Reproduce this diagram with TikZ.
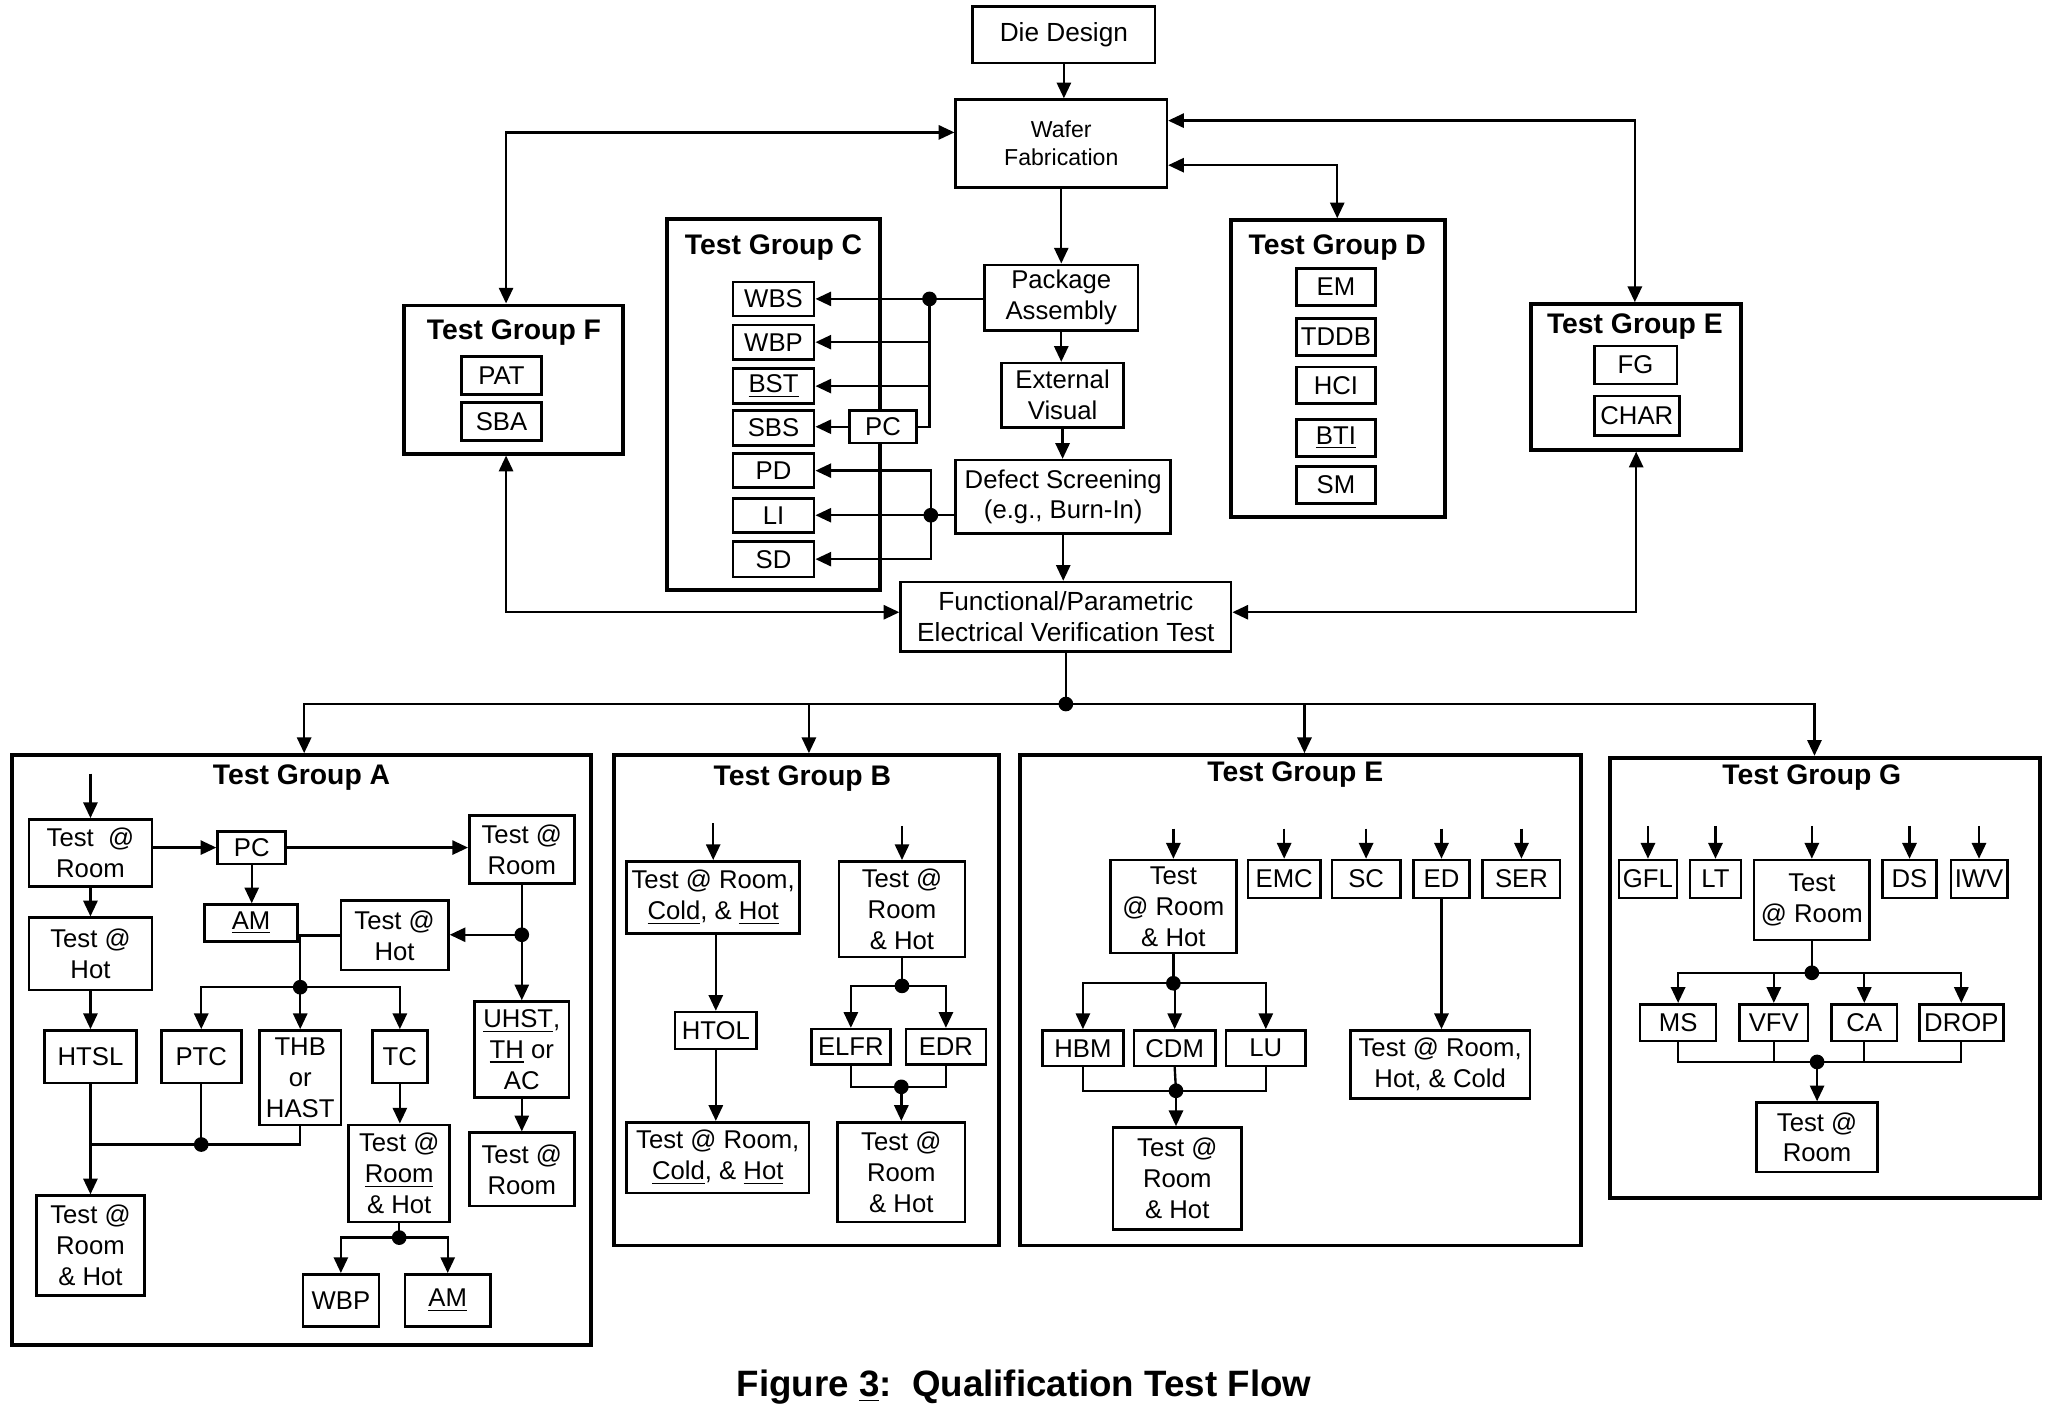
\documentclass[tikz,border=0pt]{standalone}
\usepackage{fontspec}
\setmainfont{Liberation Sans}
\usetikzlibrary{arrows.meta}
\newcommand{\fsb}{\fontsize{9.8}{11.8}\selectfont}
\newcommand{\fst}{\fontsize{10.8}{13}\selectfont\bfseries}
\newcommand{\fsw}{\fontsize{8.8}{10.6}\selectfont}
\newcommand{\fsc}{\fontsize{14}{16}\selectfont\bfseries}
% box from corners (x1,y1)-(x2,y2) in reference pixels
\newcommand{\bx}[7][]{\node[bbox,minimum width={(#4-#2)*0.5pt},minimum height={(#5-#3)*0.5pt},#1] (#6) at ({(#2+#4)/2},{(#3+#5)/2}) {#7};}
\newcommand{\gbx}[5]{\node[grp,minimum width={(#3-#1)*0.5pt},minimum height={(#4-#2)*0.5pt}] (#5) at ({(#1+#3)/2},{(#2+#4)/2}) {};}
\begin{document}
\begin{tikzpicture}[x=0.5pt,y=-0.5pt,
  bbox/.style={draw,line width=1pt,inner sep=0pt,align=center,fill=white,font=\fsb},
  grp/.style={draw,line width=1.5pt,inner sep=0pt},
  ttl/.style={font=\fst,inner sep=0pt},
  conn/.style={line width=0.9pt},
  arr/.style={conn,-{Triangle[length=6pt,width=5.4pt]}},
  darr/.style={conn,{Triangle[length=6pt,width=5.4pt]}-{Triangle[length=6pt,width=5.4pt]}}
]
\useasboundingbox (0,0) rectangle (1569,1081);

% ---------- group frames ----------
\gbx{509}{167}{671}{450}{grpC}
\gbx{939}{168}{1102}{394}{grpD}
\gbx{1168}{232}{1328}{343}{grpEt}
\gbx{308}{233}{475}{346}{grpF}
\gbx{9}{576}{451}{1026}{grpA}
\gbx{468}{576}{762}{950}{grpB}
\gbx{778}{576}{1206}{950}{grpE}
\gbx{1228}{578}{1556}{914}{grpG}

\node[ttl] (tC) at (590,189) {Test Group C};
\node[ttl] (tD) at (1020,189) {Test Group D};
\node[ttl] (tEt) at (1247,249) {Test Group E};
\node[ttl] (tF) at (392,254) {Test Group F};
\node[ttl] (tA) at (230,593) {Test Group A};
\node[ttl] (tB) at (612,594) {Test Group B};
\node[ttl] (tE) at (988,591) {Test Group E};
\node[ttl] (tG) at (1382,593) {Test Group G};

% ---------- main flow ----------
\bx[font={\fontsize{10}{12}\selectfont}]{742}{5}{881}{48}{die}{Die Design}
\bx[font=\fsw]{729}{76}{890}{143}{waf}{Wafer\\Fabrication}
\bx{751}{202}{868}{252}{pa}{Package\\Assembly}
\bx{764}{277}{857}{326}{ev}{External\\Visual}
\bx{729}{351}{893}{407}{ds}{Defect Screening\\(e.g., Burn-In)}
\bx[font={\fontsize{10}{12}\selectfont}]{687}{444}{939}{497}{fp}{Functional/Parametric\\Electrical Verification Test}

% ---------- group C items ----------
\bx{559}{215}{621}{241}{wbs}{WBS}
\bx{559}{248}{621}{274}{wbp}{WBP}
\bx{559}{281}{621}{308}{bst}{\underline{BST}}
\bx{559}{313}{621}{340}{sbs}{SBS}
\bx{559}{346}{621}{372}{pd}{PD}
\bx{559}{380}{621}{406}{li}{LI}
\bx{559}{413}{621}{440}{sd}{SD}
\bx{648}{313}{699}{338}{pc}{PC}

% ---------- group D items ----------
\bx{989}{205}{1049}{233}{em}{EM}
\bx{989}{243}{1049}{271}{tddb}{TDDB}
\bx{989}{280}{1049}{308}{hci}{HCI}
\bx{989}{320}{1049}{348}{bti}{\underline{BTI}}
\bx{989}{356}{1049}{384}{sm}{SM}

% ---------- group E (top) / F items ----------
\bx{1216}{264}{1279}{293}{fg}{FG}
\bx{1216}{302}{1281}{332}{char}{CHAR}
\bx{352}{272}{413}{301}{pat}{PAT}
\bx{352}{307}{413}{336}{sba}{SBA}

% ---------- group A ----------
\bx{22}{625}{116}{676}{trA1}{Test \ @\\Room}
\bx{166}{634}{218}{659}{pcA}{PC}
\bx{156}{690}{227}{718}{amA}{\underline{AM}}
\bx{358}{622}{438}{674}{trA2}{Test @\\Room}
\bx{22}{700}{116}{755}{thA1}{Test @\\Hot}
\bx{260}{687}{342}{740}{thA2}{Test @\\Hot}
\bx{34}{786}{104}{826}{htsl}{HTSL}
\bx{123}{786}{184}{826}{ptc}{PTC}
\bx{198}{786}{260}{858}{thb}{THB\\or\\HAST}
\bx{284}{786}{326}{826}{tc}{TC}
\bx{362}{764}{434}{837}{uhst}{\underline{UHST},\\\underline{TH} or\\AC}
\bx{266}{858}{343}{932}{trhA2}{Test @\\\underline{Room}\\\& Hot}
\bx{358}{864}{438}{920}{trA3}{Test @\\Room}
\bx{28}{912}{110}{988}{trhA1}{Test @\\Room\\\& Hot}
\bx{231}{972}{289}{1012}{wbpA}{WBP}
\bx{309}{972}{374}{1012}{amA2}{\underline{AM}}

% ---------- group B ----------
\bx{478}{657}{610}{712}{trchB1}{Test @ Room,\\\underline{Cold}, \& \underline{Hot}}
\bx{640}{657}{736}{730}{trhB1}{Test @\\Room\\\& Hot}
\bx{515}{772}{577}{800}{htol}{HTOL}
\bx{478}{856}{617}{910}{trchB2}{Test @ Room,\\\underline{Cold}, \& \underline{Hot}}
\bx{619}{785}{679}{812}{elfr}{ELFR}
\bx{691}{785}{752}{812}{edr}{EDR}
\bx{639}{856}{736}{932}{trhB2}{Test @\\Room\\\& Hot}

% ---------- group E ----------
\bx{847}{656}{943}{727}{trhE1}{Test\\@ Room\\\& Hot}
\bx{952}{656}{1007}{685}{emc}{EMC}
\bx{1016}{656}{1068}{685}{sc}{SC}
\bx{1078}{656}{1121}{685}{ed}{ED}
\bx{1131}{656}{1190}{685}{ser}{SER}
\bx{795}{786}{857}{813}{hbm}{HBM}
\bx{865}{786}{927}{813}{cdm}{CDM}
\bx{935}{786}{996}{813}{lu}{LU}
\bx{849}{860}{947}{938}{trhE2}{Test @\\Room\\\& Hot}
\bx{1030}{786}{1167}{838}{trhcE}{Test @ Room,\\Hot, \& Cold}

% ---------- group G ----------
\bx{1235}{656}{1279}{685}{gfl}{GFL}
\bx{1289}{656}{1328}{685}{lt}{LT}
\bx{1338}{656}{1426}{717}{trG1}{Test\\@ Room}
\bx{1436}{656}{1477}{685}{dsG}{DS}
\bx{1488}{656}{1531}{685}{iwv}{IWV}
\bx{1251}{766}{1309}{794}{ms}{MS}
\bx{1327}{766}{1379}{794}{vfv}{VFV}
\bx{1397}{766}{1447}{794}{ca}{CA}
\bx{1464}{766}{1528}{794}{drop}{DROP}
\bx{1340}{841}{1432}{894}{trG2}{Test @\\Room}

% ---------- caption ----------
\node[font=\fsc,inner sep=0pt] (cap) at (781,1058) {Figure \underline{3}:\ \ Qualification Test Flow};

% ================= connectors =================
% top
\draw[arr] (die.south) -- (die.south |- waf.north);
\draw[darr] (grpF.north -| 386,0) |- (waf.west |- 0,101);
\draw[darr] (grpEt.north -| 1247,0) |- (waf.east |- 0,92);
\draw[darr] (grpD.north -| 1020,0) |- (waf.east |- 0,126);
\draw[arr] (waf.south) -- (pa.north);
\draw[arr] (pa.south) -- (pa.south |- ev.north);
\draw[arr] (ev.south) -- (ev.south |- ds.north);
\draw[arr] (ds.south) -- (ds.south |- fp.north);
\draw[darr] (grpF.south -| 386,0) |- (fp.west |- 0,467);
\draw[darr] (grpEt.south -| 1248,0) |- (fp.east |- 0,467);

% group C fan-out
\coordinate (jc1) at (709,228);
\draw[conn] (pa.west |- jc1) -- (jc1);
\draw[arr] (jc1) -- (wbs.east);
\draw[arr] (jc1 |- wbp.east) -- (wbp.east);
\draw[arr] (jc1 |- bst.east) -- (bst.east);
\draw[conn] (jc1) |- (pc.east);
\draw[arr] (pc.west) -- (pc.west -| sbs.east);
\fill (jc1) circle (2.8pt);
\coordinate (jc2) at (710,393);
\draw[conn] (ds.west |- jc2) -- (jc2);
\draw[arr] (jc2) -- (li.east);
\draw[arr] (jc2) |- (pd.east);
\draw[arr] (jc2) |- (sd.east);
\fill (jc2) circle (2.8pt);

% distribution to bottom groups
\coordinate (jd) at (813,537);
\draw[conn] (fp.south) -- (jd);
\draw[arr] (jd) -| (grpA.north -| 232,0);
\draw[arr] (jd) -| (grpB.north -| 617,0);
\draw[arr] (jd) -| (grpE.north -| 995,0);
\draw[arr] (jd) -| (grpG.north -| 1384,0);
\fill (jd) circle (2.8pt);

% group A
\draw[arr] (69,590) -- (trA1.north);
\draw[arr] (pcA.west -| trA1.east) -- (pcA.west);
\draw[arr] (pcA.east) -- (pcA.east -| trA2.west);
\draw[arr] (pcA.south) -- (pcA.south |- amA.north);
\draw[arr] (trA1.south) -- (thA1.north);
\draw[arr] (thA1.south) -- (htsl.north);
\coordinate (jA1) at (398,713);
\draw[conn] (trA2.south) -- (jA1);
\draw[arr] (jA1) -- (uhst.north);
\draw[arr] (jA1) -- (jA1 -| thA2.east);
\fill (jA1) circle (2.8pt);
\coordinate (jA2) at (229,753);
\draw[conn] (thA2.west) -| (jA2);
\draw[arr] (jA2) -| (ptc.north);
\draw[arr] (jA2) -- (thb.north);
\draw[arr] (jA2) -| (tc.north);
\fill (jA2) circle (2.8pt);
\coordinate (jA3) at (153.5,873);
\draw[arr] (htsl.south) -- (trhA1.north);
\draw[conn] (ptc.south) -- (jA3);
\draw[conn] (thb.south) |- (htsl.south |- jA3);
\fill (jA3) circle (2.8pt);
\draw[arr] (tc.south) -- (tc.south |- trhA2.north);
\coordinate (jA4) at (304.5,944);
\draw[conn] (trhA2.south) -- (jA4);
\draw[arr] (jA4) -| (wbpA.north);
\draw[arr] (jA4) -| (amA2.north);
\fill (jA4) circle (2.8pt);
\draw[arr] (uhst.south) -- (trA3.north);

% group B
\draw[arr] (544,628) -- (trchB1.north);
\draw[arr] (688,630) -- (trhB1.north);
\draw[arr] (trchB1.south -| htol.north) -- (htol.north);
\draw[arr] (htol.south) -- (htol.south |- trchB2.north);
\coordinate (jB1) at (688,752);
\draw[conn] (trhB1.south) -- (jB1);
\draw[arr] (jB1) -| (elfr.north);
\draw[arr] (jB1) -| (edr.north);
\fill (jB1) circle (2.8pt);
\coordinate (jB2) at (687.5,829);
\draw[conn] (elfr.south) |- (jB2);
\draw[conn] (edr.south) |- (jB2);
\draw[arr] (jB2) -- (trhB2.north);
\fill (jB2) circle (2.8pt);

% group E
\draw[arr] (895,632) -- (trhE1.north);
\draw[arr] (979.5,632) -- (emc.north);
\draw[arr] (1042,632) -- (sc.north);
\draw[arr] (1099.5,632) -- (ed.north);
\draw[arr] (1160.5,632) -- (ser.north);
\coordinate (jE1) at (895,750);
\draw[conn] (trhE1.south) -- (jE1);
\draw[arr] (jE1) -| (hbm.north);
\draw[arr] (jE1) -| (cdm.north);
\draw[arr] (jE1) -| (lu.north);
\fill (jE1) circle (2.8pt);
\coordinate (jE2) at (897,832);
\draw[conn] (hbm.south) |- (jE2);
\draw[conn] (lu.south) |- (jE2);
\draw[conn] (cdm.south) -- (jE2);
\draw[arr] (jE2) -- (jE2 |- trhE2.north);
\fill (jE2) circle (2.8pt);
\draw[arr] (ed.south) -- (ed.south |- trhcE.north);

% group G
\draw[arr] (1257,630) -- (gfl.north);
\draw[arr] (1308.5,630) -- (lt.north);
\draw[arr] (1382,630) -- (trG1.north);
\draw[arr] (1456.5,630) -- (dsG.north);
\draw[arr] (1509.5,630) -- (iwv.north);
\coordinate (jG1) at (1382,742);
\draw[conn] (trG1.south) -- (jG1);
\draw[arr] (jG1) -| (ms.north);
\draw[arr] (jG1) -| (vfv.north);
\draw[arr] (jG1) -| (ca.north);
\draw[arr] (jG1) -| (drop.north);
\fill (jG1) circle (2.8pt);
\coordinate (jG2) at (1386,810);
\draw[conn] (ms.south) |- (jG2);
\draw[conn] (drop.south) |- (jG2);
\draw[conn] (vfv.south) -- (vfv.south |- jG2);
\draw[conn] (ca.south) -- (ca.south |- jG2);
\draw[arr] (jG2) -- (trG2.north);
\fill (jG2) circle (2.8pt);
\end{tikzpicture}
\end{document}
